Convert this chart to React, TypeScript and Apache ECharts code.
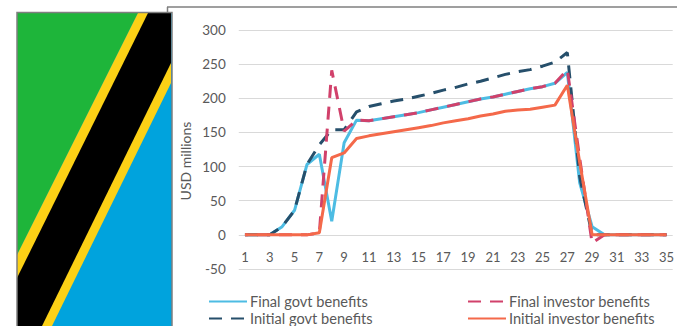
import React, { useEffect, useRef } from "react";
import * as echarts from "echarts";

const years = Array.from({ length: 35 }, (_, i) => String(i + 1));
const finalGovt = [0, 0, 0, 12, 36, 103, 118, 20, 135, 168, 167, 170, 173, 176, 179, 183, 187, 191, 195, 199, 202, 206, 210, 214, 217, 222, 238, 76, 12, 0, 0, 0, 0, 0, 0];
const initialGovt = [0, 0, 0, 12, 36, 103, 132, 154, 154, 180, 188, 192, 196, 199, 203, 207, 212, 216, 221, 225, 230, 235, 239, 242, 247, 253, 267, 85, 0, 0, 0, 0, 0, 0, 0];
const finalInvestor = [0, 0, 0, 0, 0, 0, 3, 241, 152, 168, 167, 170, 173, 176, 179, 183, 187, 191, 195, 199, 202, 206, 210, 214, 217, 222, 242, 112, -12, 0, 0, 0, 0, 0, 0];
const initialInvestor = [0, 0, 0, 0, 0, 0, 3, 113, 120, 141, 145, 148, 151, 154, 157, 160, 164, 167, 170, 174, 177, 181, 183, 184, 187, 190, 219, 106, 0, 0, 0, 0, 0, 0, 0];

const TEXT = "#595959";
const FONT = "Lato";

export default function App() {
  const ref = useRef<HTMLDivElement>(null);

  useEffect(() => {
    document.body.style.margin = "0";
    const chart = echarts.init(ref.current!, undefined, { renderer: "svg" });
    const line = (name: string, data: number[], color: string, dashed: boolean, z: number, dashOffset = 0) => ({
      name,
      type: "line",
      data,
      z,
      symbol: "none",
      lineStyle: {
        color,
        width: 3,
        cap: "butt",
        type: dashed ? [13, 9] : "solid",
        dashOffset,
      },
      itemStyle: { color },
    });
    // One legend per entry, so that the two rows and two columns stay where they are put
    const legendAt = (name: string, left: number, top: number) => ({
      left,
      top,
      itemWidth: 38,
      itemHeight: 12,
      itemStyle: { opacity: 0 },
      lineStyle: { dashOffset: 0 },
      textStyle: { color: TEXT, fontFamily: FONT, fontSize: 14.6, padding: [0, 0, 0, -2] },
      padding: 0,
      data: [name],
    });
    chart.setOption({
      animation: false,
      backgroundColor: "#ffffff",
      grid: { left: 238.75, right: 0.75, top: 30, height: 239 },
      xAxis: {
        type: "category",
        data: years,
        boundaryGap: true,
        offset: -27,
        axisLine: { show: false },
        axisTick: { show: false },
        axisLabel: { interval: 1, color: TEXT, fontFamily: FONT, fontSize: 13, margin: 8 },
      },
      yAxis: {
        type: "value",
        min: -50,
        max: 300,
        interval: 50,
        axisLine: { show: false },
        axisTick: { show: false },
        axisLabel: { color: TEXT, fontFamily: FONT, fontSize: 13.5, margin: 13 },
        splitLine: { lineStyle: { color: "#d9d9d9", width: 1 } },
      },
      legend: [
        legendAt("Final govt benefits", 208, 294),
        legendAt("Initial govt benefits", 208, 311),
        legendAt("Final investor benefits", 467, 294),
        legendAt("Initial investor benefits", 467, 311),
      ],
      series: [
        line("Final govt benefits", finalGovt, "#4dbce3", false, 2),
        line("Initial govt benefits", initialGovt, "#264f6b", true, 3),
        line("Final investor benefits", finalInvestor, "#d1416b", true, 4, 10),
        line("Initial investor benefits", initialInvestor, "#f4694a", false, 5),
      ],
      graphic: [
        // Vertical value-axis title
        {
          type: "text",
          x: 185,
          y: 161,
          rotation: Math.PI / 2,
          style: {
            text: "USD millions",
            fill: TEXT,
            font: `14px ${FONT}`,
            align: "center",
            verticalAlign: "middle",
          },
        },
        // Frame around the plot
        { type: "line", shape: { x1: 167, y1: 7, x2: 677, y2: 7 }, style: { stroke: "#7f7f7f", lineWidth: 1.5 }, z: 0 },
        { type: "line", shape: { x1: 167.5, y1: 7, x2: 167.5, y2: 13 }, style: { stroke: "#7f7f7f", lineWidth: 1.5 }, z: 0 },
        // Flag of Tanzania
        { type: "rect", shape: { x: 17, y: 13, width: 155, height: 313 }, style: { fill: "#00a3dd" }, z: 10 },
        { type: "polygon", shape: { points: [[17, 13], [138, 13], [17, 255]] }, style: { fill: "#1eb53a" }, z: 11 },
        { type: "polygon", shape: { points: [[138, 13], [171, 13], [171, 83], [52, 326], [17, 326], [17, 255]] }, style: { fill: "#fcd116" }, z: 11 },
        { type: "polygon", shape: { points: [[148, 13], [171, 13], [171, 63], [42, 326], [17, 326], [17, 278]] }, style: { fill: "#000000" }, z: 12 },
        { type: "rect", shape: { x: 17, y: 12.5, width: 155, height: 320 }, style: { fill: "none", stroke: "#7f7f7f", lineWidth: 1.5 }, z: 13 },
      ],
    });
    return () => chart.dispose();
  }, []);

  return <div ref={ref} style={{ width: 677, height: 326 }} />;
}
